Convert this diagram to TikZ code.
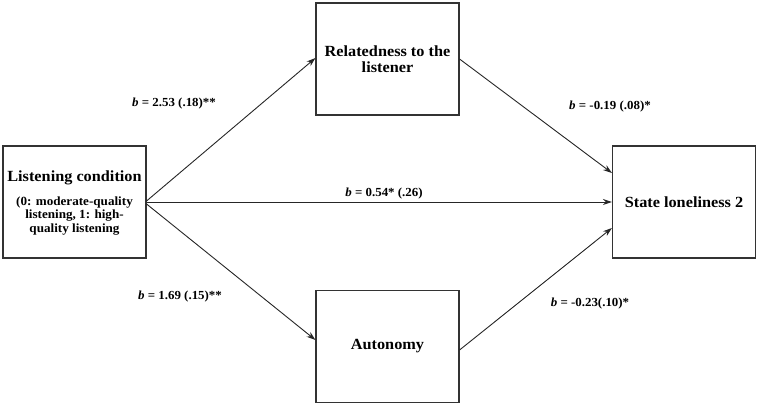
\documentclass[tikz,border=0pt]{standalone}
\usepackage{fontspec}
\setmainfont{Liberation Serif}[FakeStretch=1.05]
\usetikzlibrary{arrows.meta}
\begin{document}
\begin{tikzpicture}[x=1pt,y=-1pt,
  box/.style={draw=black!80,line width=1.1pt,rectangle,minimum width=143pt,minimum height=112pt,inner sep=0pt,align=center,font=\fontsize{15.5}{16.5}\selectfont\bfseries},
  arr/.style={draw=black!85,line width=0.9pt,-{Stealth[length=9pt,width=6pt]}},
  lbl/.style={font=\fontsize{12.3}{13}\selectfont\bfseries,inner sep=0pt}]
\useasboundingbox (0,0) rectangle (758,406);
\node[box] (L) at (74.5,202) {};
\node[font=\fontsize{15.5}{16.5}\selectfont\bfseries] (Lt) at (74.5,178) {Listening condition};
\node[font=\fontsize{12.5}{13.5}\selectfont\bfseries,align=center,inner sep=0pt] (Ls) at (74.5,216) {(0: moderate-quality\\listening, 1: high-\\quality listening};
\node[box] (T) at (387.5,59) {Relatedness to the\\listener};
\node[box] (B) at (387.5,346.5) {Autonomy};
\node[box] (R) at (684,202) {State loneliness 2};
\draw[arr] ([yshift=1pt]L.east) -- ([yshift=1pt]T.west);
\draw[arr] (L.east) -- (R.west);
\draw[arr] ([yshift=-2pt]L.east) -- ([yshift=6.5pt]B.west);
\draw[arr] (T.east) -- ([yshift=29pt]R.west);
\draw[arr] ([yshift=-3.5pt]B.east) -- ([yshift=-26pt]R.west);
\node[lbl] (l1) at (174,104) {\textit{b} = 2.53 (.18)**};
\node[lbl] (l2) at (610,107) {\textit{b} = -0.19 (.08)*};
\node[lbl] (l3) at (180,297) {\textit{b} = 1.69 (.15)**};
\node[lbl] (l4) at (590,304) {\textit{b} = -0.23(.10)*};
\node[lbl] (l5) at (384,194) {\textit{b} = 0.54* (.26)};
\end{tikzpicture}
\end{document}
